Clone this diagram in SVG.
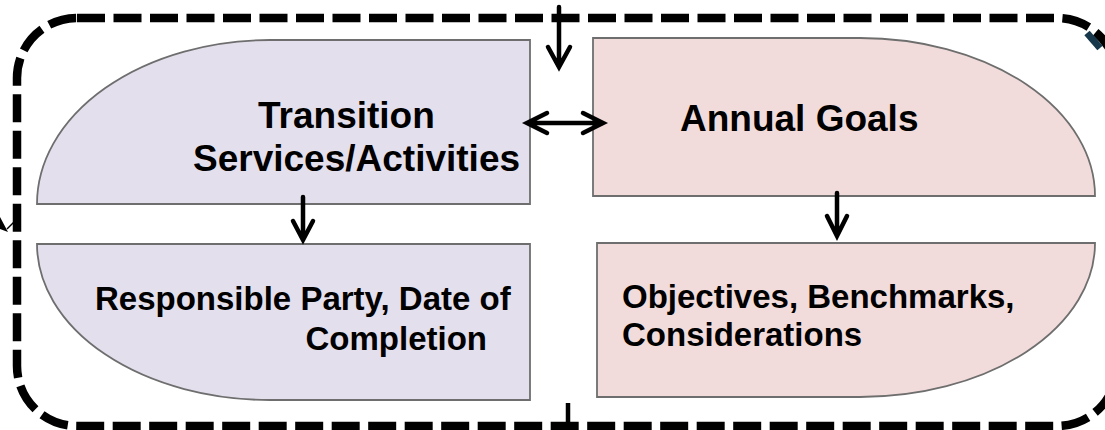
<svg xmlns="http://www.w3.org/2000/svg" width="1105" height="430" viewBox="0 0 1105 430">
<style>
.lav{fill:#e4dfec;stroke:#6e6e6e;stroke-width:1.8}
.pink{fill:#f2dcdb;stroke:#6e6e6e;stroke-width:1.8}
.title{font-family:"Liberation Sans",Arial,sans-serif;font-weight:bold;font-size:37px;fill:#000}
.body{font-family:"Liberation Sans",Arial,sans-serif;font-weight:bold;font-size:33px;fill:#000}
.ar{fill:none;stroke:#000;stroke-width:4.5;stroke-linecap:round;stroke-linejoin:miter}
</style>
<rect width="1105" height="430" fill="#fff"/>
<g id="frame">
<rect x="17" y="18" width="1100" height="408" rx="60" ry="60" fill="none" stroke="#000" stroke-width="8.5" stroke-dasharray="28 8.5"/>
<line x1="1087" y1="33" x2="1100" y2="48" stroke="#17374a" stroke-width="7"/>
</g>
<g id="transition-services">
<path class="lav" d="M37 204 A233 164 0 0 1 270 40 L530 40 L530 204 Z"/>
<text class="title" x="258" y="128">Transition</text>
<text class="title" x="193" y="171">Services/Activities</text>
</g>
<g id="annual-goals">
<path class="pink" d="M593 38 L860 38 A235 158 0 0 1 1095 196 L593 196 Z"/>
<text class="title" x="680" y="131">Annual Goals</text>
</g>
<g id="responsible-party">
<path class="lav" d="M37 244 L530 244 L530 400 L270 400 A233 156 0 0 1 37 244 Z"/>
<text class="body" x="95" y="310">Responsible Party, Date of</text>
<text class="body" x="487" y="350" text-anchor="end">Completion</text>
</g>
<g id="objectives">
<path class="pink" d="M597 243 L1095 243 A235 154 0 0 1 860 397 L597 397 Z"/>
<text class="body" x="622" y="308">Objectives, Benchmarks,</text>
<text class="body" x="622" y="346">Considerations</text>
</g>
<g id="connectors">
<path class="ar" d="M559 7 L559 66 M548 47 L559 67 L570 47"/>
<path class="ar" d="M528 123 L602 123 M547 113 L527 123 L547 133 M583 113 L603 123 L583 133"/>
<path class="ar" d="M303 197 L303 239 M293 221 L303 240 L313 221"/>
<path class="ar" d="M837 193 L837 235 M827 216 L837 236 L847 216"/>
<line x1="568" y1="403" x2="568" y2="430" stroke="#000" stroke-width="4.5"/>
<polygon points="0,217 8,232 0,229" fill="#000"/>
<line x1="7" y1="229" x2="14" y2="222" stroke="#000" stroke-width="1.5"/>
</g>
</svg>
